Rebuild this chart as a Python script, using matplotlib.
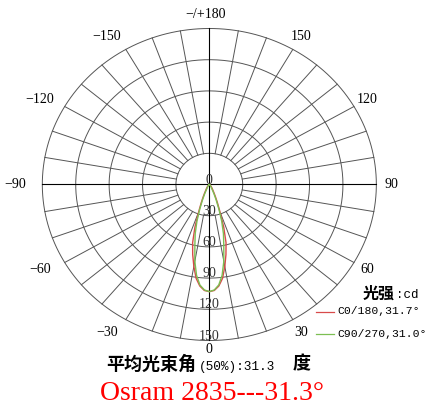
import numpy as np
import matplotlib
matplotlib.use('Agg')
import matplotlib.pyplot as plt

# polar angle from nadir (deg) and luminous intensity (cd)
theta = [0, 2.5, 5, 7.5, 10, 12.5, 15, 17.5, 20, 22.5, 25, 27.5, 30,
         35, 40, 45, 50, 60, 70, 80, 90]
cd_c0_180 = [103, 102, 98, 91, 80, 69, 58, 43, 28, 19, 13, 9, 6.5,
             4, 2.5, 1.5, 1, 0.5, 0.3, 0.1, 0]
cd_c90_270 = [103, 101.5, 97, 88, 75, 60, 49, 37, 25, 16, 10, 6, 4,
              2.5, 1.5, 1, 0.7, 0.4, 0.2, 0.1, 0]

ring_values = [30, 60, 90, 120, 150]
angle_ticks = [0, 30, 60, 90, 120, 150, 180, -150, -120, -90, -60, -30]
angle_labels = ['0', '30', '60', '90', '120', '150', '\u2212/+180',
                '\u2212150', '\u2212120', '\u221290', '\u221260', '\u221230']
legend_labels = ['C0/180,31.7\u00b0', 'C90/270,31.0\u00b0']
legend_colors = ['#d84a4a', '#7cbf52']
mean_beam = '31.3'
title = 'Osram 2835---31.3\u00b0'

W, H = 425, 412
SERIF = ['Liberation Serif', 'DejaVu Serif']
MONO = ['Liberation Mono', 'DejaVu Sans Mono']
CJK = ['Noto Sans CJK SC', 'DejaVu Sans']


def px(x, y):
    # pixel position in the picture -> axes fraction
    return x / W, 1 - y / H


def lobe(ax, angles, values, color):
    a = np.radians(np.concatenate([-np.array(angles)[::-1], angles]))
    r = np.concatenate([np.array(values)[::-1], values])
    ax.plot(r * np.sin(a), -r * np.cos(a), color=color, lw=1.0, zorder=3)


fig = plt.figure(figsize=(W / 100, H / 100), dpi=100)
ax = fig.add_axes([0, 0, 1, 1])
ax.set_xlim(-188.0, 193.7)
ax.set_ylim(-218.75, 177.4)
ax.axis('off')

# grid
t = np.linspace(0, 2 * np.pi, 400)
for r in ring_values:
    ax.plot(r * np.cos(t), r * np.sin(t), color='#555555', lw=0.7, zorder=1)
for a in range(0, 360, 10):
    if a % 90 == 0:
        continue
    ar = np.radians(a)
    ax.plot([30 * np.sin(ar), 150 * np.sin(ar)], [-30 * np.cos(ar), -150 * np.cos(ar)],
            color='#555555', lw=0.7, zorder=1)
ax.plot([-150, 150], [0, 0], color='black', lw=0.8, zorder=2)
ax.plot([0, 0], [-150, 150], color='black', lw=0.8, zorder=2)

# intensity labels on the downward axis
for r in [0] + ring_values:
    ax.text(0, -r + 4.3, str(r), ha='center', va='center', fontsize=10,
            family=SERIF, color='#333333', zorder=4)

# angle labels
for a, lab in zip(angle_ticks, angle_labels):
    ar = np.radians(a)
    x, y = 164 * np.sin(ar), -164 * np.cos(ar)
    if a < 0:
        x -= 10
    if a == 180:
        x, y = -3, 163
    if a == 0:
        y = -159
    ax.text(x, y, lab, ha='center', va='center', fontsize=10, family=SERIF)

lobe(ax, theta, cd_c0_180, legend_colors[0])
lobe(ax, theta, cd_c90_270, legend_colors[1])

# legend
ax.text(*px(363, 294), '光强', transform=ax.transAxes, ha='left', va='center',
        fontsize=11.5, family=CJK, weight='bold')
ax.text(*px(396, 295), ':cd', transform=ax.transAxes, ha='left', va='center',
        fontsize=9, family=MONO)
for i, (lab, col) in enumerate(zip(legend_labels, legend_colors)):
    yy = 311.5 + i * 22.5
    x0, y0 = px(316, yy)
    x1, _ = px(334, yy)
    ax.plot([x0, x1], [y0, y0], transform=ax.transAxes, color=col, lw=0.9)
    ax.text(*px(337, yy), lab, transform=ax.transAxes, ha='left', va='center',
            fontsize=8.2, family=MONO)

# mean beam angle line
ax.text(*px(106, 364), '平均光束角', transform=ax.transAxes, ha='left', va='center',
        fontsize=13, family=CJK, weight='bold')
ax.text(*px(199, 367), '(50%):' + mean_beam, transform=ax.transAxes, ha='left',
        va='center', fontsize=9.2, family=MONO)
ax.text(*px(302, 364), '度', transform=ax.transAxes, ha='center', va='center',
        fontsize=13, family=CJK, weight='bold')

ax.text(*px(212, 394), title, transform=ax.transAxes, ha='center', va='center',
        fontsize=20, family=SERIF, color='red')

fig.savefig('out.png', dpi=100)
